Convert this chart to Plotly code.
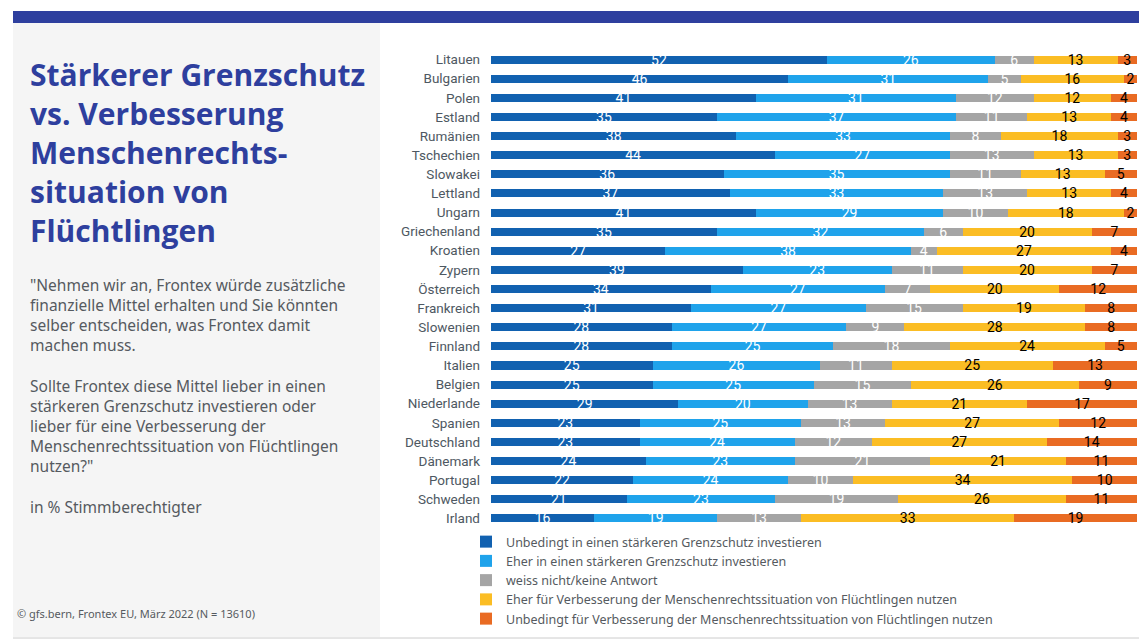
import plotly.graph_objects as go

countries = ['Litauen', 'Bulgarien', 'Polen', 'Estland', 'Rumänien', 'Tschechien', 'Slowakei',
             'Lettland', 'Ungarn', 'Griechenland', 'Kroatien', 'Zypern', 'Österreich', 'Frankreich',
             'Slowenien', 'Finnland', 'Italien', 'Belgien', 'Niederlande', 'Spanien', 'Deutschland',
             'Dänemark', 'Portugal', 'Schweden', 'Irland']

unbedingt_grenz = [52, 46, 41, 35, 38, 44, 36, 37, 41, 35, 27, 39, 34, 31, 28, 28, 25, 25, 29, 23, 23, 24, 22, 21, 16]
eher_grenz      = [26, 31, 31, 37, 33, 27, 35, 33, 29, 32, 38, 23, 27, 27, 27, 25, 26, 25, 20, 25, 24, 23, 24, 23, 19]
weiss_nicht     = [6, 5, 12, 11, 8, 13, 11, 13, 10, 6, 4, 11, 7, 15, 9, 18, 11, 15, 13, 13, 12, 21, 10, 19, 13]
eher_mr         = [13, 16, 12, 13, 18, 13, 13, 13, 18, 20, 27, 20, 20, 19, 28, 24, 25, 26, 21, 27, 27, 21, 34, 26, 33]
unbedingt_mr    = [3, 2, 4, 4, 3, 3, 5, 4, 2, 7, 4, 7, 12, 8, 8, 5, 13, 9, 17, 12, 14, 11, 10, 11, 19]

series_names = ['Unbedingt in einen stärkeren Grenzschutz investieren',
                'Eher in einen stärkeren Grenzschutz investieren',
                'weiss nicht/keine Antwort',
                'Eher für Verbesserung der Menschenrechtssituation von Flüchtlingen nutzen',
                'Unbedingt für Verbesserung der Menschenrechtssituation von Flüchtlingen nutzen']
series = [unbedingt_grenz, eher_grenz, weiss_nicht, eher_mr, unbedingt_mr]
colors = ['#1161b0', '#1fa3eb', '#a5a5a5', '#fbbd24', '#e96b23']
text_colors = ['white', 'white', 'white', 'black', 'black']

# page has an 8px body margin; all px values below are page coordinates
OFF = 8
W, H = 1147 - OFF, 643 - OFF
L, R, T, B = 491 - OFF, 1137 - OFF, 50 - OFF, 528 - OFF

def px_x(x):
    return (x - OFF - L) / (R - L)

def px_y(y):
    return (B - (y - OFF)) / (B - T)

FONT = 'Noto Sans, Roboto, sans-serif'
NARROW = 'Roboto, sans-serif'

fig = go.Figure()
for name, vals, col, tcol in zip(series_names, series, colors, text_colors):
    fig.add_trace(go.Bar(
        y=countries, x=vals, name=name, orientation='h',
        marker=dict(color=col, line=dict(width=0)),
        text=[str(v) for v in vals], textposition='inside', textangle=0,
        insidetextanchor='middle', constraintext='none',
        insidetextfont=dict(color=tcol, size=14, family=NARROW),
        hoverinfo='skip'))

# background panels
fig.add_shape(type='rect', xref='paper', yref='paper', layer='below',
              x0=px_x(13), x1=px_x(380), y0=px_y(637), y1=px_y(23),
              fillcolor='#f5f5f5', line=dict(width=0))
fig.add_shape(type='rect', xref='paper', yref='paper',
              x0=px_x(13), x1=px_x(1147), y0=px_y(23), y1=px_y(11),
              fillcolor='#2e3f9e', line=dict(width=0))
fig.add_shape(type='line', xref='paper', yref='paper',
              x0=px_x(13), x1=px_x(1147), y0=px_y(638), y1=px_y(638),
              line=dict(color='#cccccc', width=1))

fig.add_annotation(xref='paper', yref='paper', x=px_x(28), y=px_y(52),
                   xanchor='left', yanchor='top', align='left', showarrow=False,
                   text='<b>Stärkerer Grenzschutz<br>vs. Verbesserung<br>Menschenrechts-<br>situation von<br>Flüchtlingen</b>',
                   font=dict(family='Open Sans, Noto Sans, sans-serif', size=30, color='#2e3f9e'))

body = ('"Nehmen wir an, Frontex würde zusätzliche<br>finanzielle Mittel erhalten und Sie könnten<br>'
        'selber entscheiden, was Frontex damit<br>machen muss.<br><br>'
        'Sollte Frontex diese Mittel lieber in einen<br>stärkeren Grenzschutz investieren oder<br>'
        'lieber für eine Verbesserung der<br>Menschenrechtssituation von Flüchtlingen<br>nutzen?"<br><br>'
        'in % Stimmberechtigter')
fig.add_annotation(xref='paper', yref='paper', x=px_x(28), y=px_y(272),
                   xanchor='left', yanchor='top', align='left', showarrow=False,
                   text=body, font=dict(family=FONT, size=15.5, color='#555a60'))

fig.add_annotation(xref='paper', yref='paper', x=px_x(15), y=px_y(613),
                   xanchor='left', yanchor='middle', align='left', showarrow=False,
                   text='© gfs.bern, Frontex EU, März 2022 (N = 13610)',
                   font=dict(family=FONT, size=11, color='#555a60'))

fig.update_layout(
    width=W, height=H, barmode='stack', bargap=0.58,
    margin=dict(l=L, r=W - R, t=T, b=H - B, autoexpand=False),
    paper_bgcolor='white', plot_bgcolor='white',
    uniformtext=dict(minsize=14, mode='show'),
    font=dict(family=FONT, color='#555a60'),
    xaxis=dict(range=[0, 100], visible=False, showgrid=False, zeroline=False),
    yaxis=dict(autorange='reversed', showgrid=False, ticks='', ticklabelstandoff=10,
               tickfont=dict(size=13.5, color='#4e5862', family=NARROW)),
    legend=dict(orientation='v', x=px_x(466), y=px_y(527), xanchor='left', yanchor='top',
                traceorder='normal', font=dict(size=12.5, color='#555a60', family=FONT),
                itemwidth=30, bgcolor='rgba(0,0,0,0)', tracegroupgap=0),
)

fig.write_html('out.html')
